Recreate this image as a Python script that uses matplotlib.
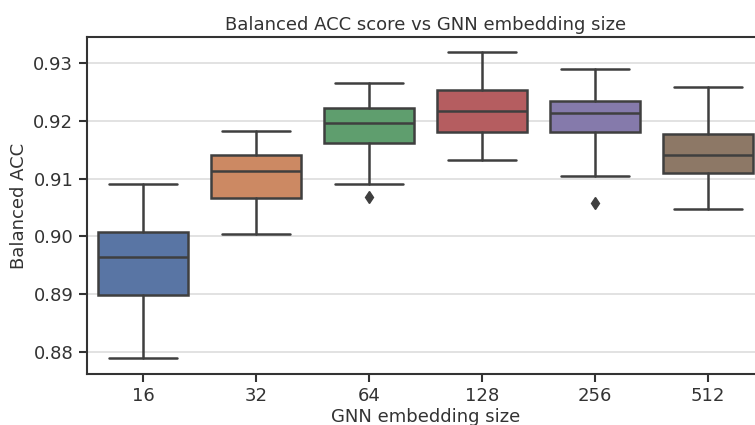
import matplotlib
matplotlib.use("Agg")
import matplotlib.pyplot as plt
import seaborn as sns

sizes = ["16", "32", "64", "128", "256", "512"]
whislo = [0.8789, 0.9005, 0.9090, 0.9132, 0.9105, 0.9048]
q1 = [0.8898, 0.9066, 0.9162, 0.9180, 0.9180, 0.9110]
med = [0.8965, 0.9113, 0.9196, 0.9217, 0.9213, 0.9141]
q3 = [0.9008, 0.9140, 0.9222, 0.9254, 0.9235, 0.9178]
whishi = [0.9090, 0.9182, 0.9266, 0.9319, 0.9290, 0.9258]
fliers = [[], [], [0.9069], [], [0.9058], []]

sns.set_style("ticks")
plt.rcParams["font.family"] = ["DejaVu Sans"]

stats = []
for i in range(len(sizes)):
    stats.append(dict(label=sizes[i], whislo=whislo[i], q1=q1[i], med=med[i],
                      q3=q3[i], whishi=whishi[i], fliers=fliers[i]))

colors = [sns.desaturate(c, 0.75) for c in sns.color_palette("deep", len(sizes))]
gray = "#3f3f3f"

fig = plt.figure(figsize=(7.55, 4.25), dpi=100)
ax = fig.add_axes([0.1146, 0.12, 0.898, 0.793])

bp = ax.bxp(stats, positions=range(len(sizes)), widths=0.8, patch_artist=True,
            boxprops=dict(edgecolor=gray, linewidth=1.8),
            medianprops=dict(color=gray, linewidth=1.8),
            whiskerprops=dict(color=gray, linewidth=1.8),
            capprops=dict(color=gray, linewidth=1.8),
            flierprops=dict(marker="d", markerfacecolor=gray, markeredgecolor=gray,
                            markersize=6))
for patch, c in zip(bp["boxes"], colors):
    patch.set_facecolor(c)
for cap in bp["caps"]:
    x = cap.get_xdata()
    mid = (x[0] + x[1]) / 2
    cap.set_xdata([mid - 0.3, mid + 0.3])

ax.set_xlim(-0.5, len(sizes) - 0.5)
ax.set_ylim(0.8762, 0.9345)
ax.set_yticks([0.88, 0.89, 0.90, 0.91, 0.92, 0.93])
ax.set_yticklabels(["0.88", "0.89", "0.90", "0.91", "0.92", "0.93"])
ax.grid(axis="y", color="#dddddd", linewidth=1.2)
ax.set_axisbelow(True)
ax.tick_params(labelsize=13, length=6, width=1.5, color="#333333", labelcolor="#333333")
for s in ax.spines.values():
    s.set_linewidth(1.5)
    s.set_color("#333333")

ax.set_xlabel("GNN embedding size", fontsize=13, color="#333333", labelpad=2)
ax.set_ylabel("Balanced ACC", fontsize=13, color="#333333")
ax.set_title("Balanced ACC score vs GNN embedding size", fontsize=13, color="#333333", pad=5)

fig.savefig("out.png", dpi=100)
